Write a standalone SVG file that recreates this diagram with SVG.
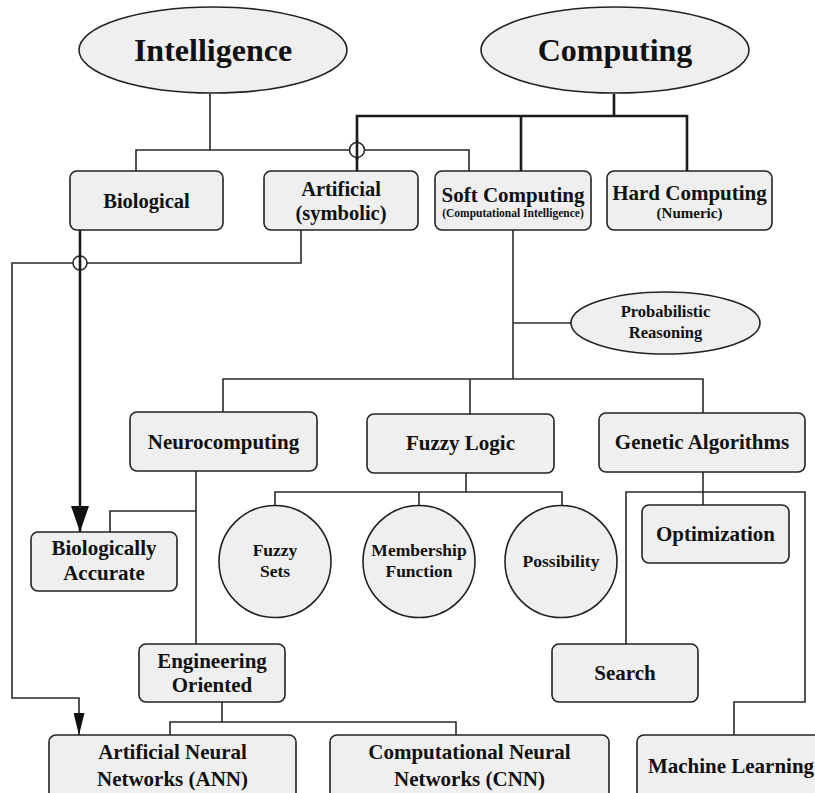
<svg xmlns="http://www.w3.org/2000/svg" width="815" height="793" viewBox="0 0 815 793">
<style>
.bg{fill:#ffffff}
.n{fill:#eeefee;stroke:#222;stroke-width:1.6}
.t{font-family:"Liberation Serif","Times New Roman","DejaVu Serif",serif;font-weight:bold;fill:#111;text-anchor:middle}
.c{fill:none;stroke:#2a2a2a;stroke-width:1.6}
.k{fill:none;stroke:#1a1a1a;stroke-width:2.6}
.hop{fill:#fff;stroke:#2a2a2a;stroke-width:1.6}
</style>
<defs>
<marker id="bigArrow" markerWidth="26" markerHeight="18" refX="26" refY="9" orient="auto" markerUnits="userSpaceOnUse" viewBox="0 0 26 18">
<path d="M0,0 L26,9 L0,18 Z" fill="#111"/>
</marker>
<marker id="smallArrow" markerWidth="22" markerHeight="11" refX="22" refY="5.5" orient="auto" markerUnits="userSpaceOnUse" viewBox="0 0 22 11">
<path d="M0,0 L22,5.5 L0,11 Z" fill="#111"/>
</marker>
</defs>
<rect class="bg" x="0" y="0" width="815" height="793"/>
<g id="connectors">
<path class="c" d="M210,94 V150"/>
<path class="c" d="M136,171 V150 H469 V171"/>
<path class="k" d="M614,94 V116"/>
<path class="k" d="M357,171 V116 H687 V171"/>
<path class="k" d="M521,116 V171"/>
<circle class="hop" cx="357" cy="150" r="7.5"/>
<path class="k" d="M357,140 V160"/>
<path class="c" d="M301,230 V263 H12 V698 H79 V735" marker-end="url(#smallArrow)"/>
<circle class="hop" cx="80" cy="263" r="7"/>
<path class="k" d="M80,230 V532" marker-end="url(#bigArrow)"/>
<path class="c" d="M513,230 V379"/>
<path class="c" d="M513,323 H571"/>
<path class="c" d="M223,412 V379 H703 V413"/>
<path class="c" d="M470,379 V414"/>
<path class="c" d="M196,471 V644"/>
<path class="c" d="M196,511 H110 V532"/>
<path class="c" d="M466,473 V492"/>
<path class="c" d="M275,506 V492 H562 V506"/>
<path class="c" d="M419,492 V506"/>
<path class="c" d="M703,472 V505"/>
<path class="c" d="M626,644 V492 H805 V702 H734 V735"/>
<path class="c" d="M222,702 V722"/>
<path class="c" d="M170,735 V722 H456 V735"/>
</g>
<g id="intelligence">
<ellipse class="n" cx="213" cy="50" rx="134" ry="43"/>
<text class="t" x="213" y="61" font-size="32">Intelligence</text>
</g>
<g id="computing">
<ellipse class="n" cx="615" cy="50" rx="134" ry="43"/>
<text class="t" x="615" y="61" font-size="32">Computing</text>
</g>
<g id="biological">
<rect class="n" x="70" y="171" width="153" height="59" rx="7"/>
<text class="t" x="146.5" y="208" font-size="20.5">Biological</text>
</g>
<g id="artificial">
<rect class="n" x="264" y="171" width="154" height="59" rx="7"/>
<text class="t" x="341" y="196" font-size="20.5">Artificial</text>
<text class="t" x="341" y="220" font-size="20.5">(symbolic)</text>
</g>
<g id="soft-computing">
<rect class="n" x="435" y="171" width="156" height="59" rx="7"/>
<text class="t" x="513" y="202" font-size="21">Soft Computing</text>
<text class="t" x="513" y="217" font-size="11.5">(Computational Intelligence)</text>
</g>
<g id="hard-computing">
<rect class="n" x="607" y="171" width="165" height="59" rx="7"/>
<text class="t" x="689.5" y="200" font-size="21">Hard Computing</text>
<text class="t" x="689.5" y="218" font-size="15">(Numeric)</text>
</g>
<g id="probabilistic">
<ellipse class="n" cx="665.5" cy="323" rx="94.5" ry="31"/>
<text class="t" x="665.5" y="317" font-size="16.5">Probabilistic</text>
<text class="t" x="665.5" y="338" font-size="16.5">Reasoning</text>
</g>
<g id="neurocomputing">
<rect class="n" x="130" y="412" width="187" height="59" rx="7"/>
<text class="t" x="223.5" y="449" font-size="21">Neurocomputing</text>
</g>
<g id="fuzzy-logic">
<rect class="n" x="367" y="414" width="187" height="59" rx="7"/>
<text class="t" x="460.5" y="450" font-size="21">Fuzzy Logic</text>
</g>
<g id="genetic-algorithms">
<rect class="n" x="599" y="413" width="206" height="59" rx="7"/>
<text class="t" x="702" y="449" font-size="21">Genetic Algorithms</text>
</g>
<g id="fuzzy-sets">
<circle class="n" cx="275" cy="561.5" r="56"/>
<text class="t" x="275" y="556" font-size="17.5">Fuzzy</text>
<text class="t" x="275" y="577" font-size="17.5">Sets</text>
</g>
<g id="membership-function">
<circle class="n" cx="419" cy="561.5" r="56"/>
<text class="t" x="419" y="556" font-size="17.5">Membership</text>
<text class="t" x="419" y="577" font-size="17.5">Function</text>
</g>
<g id="possibility">
<circle class="n" cx="561" cy="561.5" r="56"/>
<text class="t" x="561" y="567" font-size="17.5">Possibility</text>
</g>
<g id="optimization">
<rect class="n" x="642" y="505" width="147" height="58" rx="7"/>
<text class="t" x="715.5" y="541" font-size="21">Optimization</text>
</g>
<g id="biologically-accurate">
<rect class="n" x="31" y="532" width="146" height="59" rx="7"/>
<text class="t" x="104" y="555" font-size="21">Biologically</text>
<text class="t" x="104" y="580" font-size="21">Accurate</text>
</g>
<g id="engineering-oriented">
<rect class="n" x="139" y="644" width="146" height="58" rx="7"/>
<text class="t" x="212" y="668" font-size="21">Engineering</text>
<text class="t" x="212" y="692" font-size="21">Oriented</text>
</g>
<g id="search">
<rect class="n" x="552" y="644" width="146" height="58" rx="7"/>
<text class="t" x="625" y="680" font-size="21">Search</text>
</g>
<g id="ann">
<rect class="n" x="49" y="735" width="247" height="70" rx="7"/>
<text class="t" x="172.5" y="759" font-size="21">Artificial Neural</text>
<text class="t" x="172.5" y="786" font-size="21">Networks (ANN)</text>
</g>
<g id="cnn">
<rect class="n" x="330" y="735" width="279" height="70" rx="7"/>
<text class="t" x="469.5" y="759" font-size="21">Computational Neural</text>
<text class="t" x="469.5" y="786" font-size="21">Networks (CNN)</text>
</g>
<g id="machine-learning">
<rect class="n" x="637" y="735" width="200" height="70" rx="7"/>
<text class="t" x="731" y="773" font-size="21">Machine Learning</text>
</g>
</svg>
